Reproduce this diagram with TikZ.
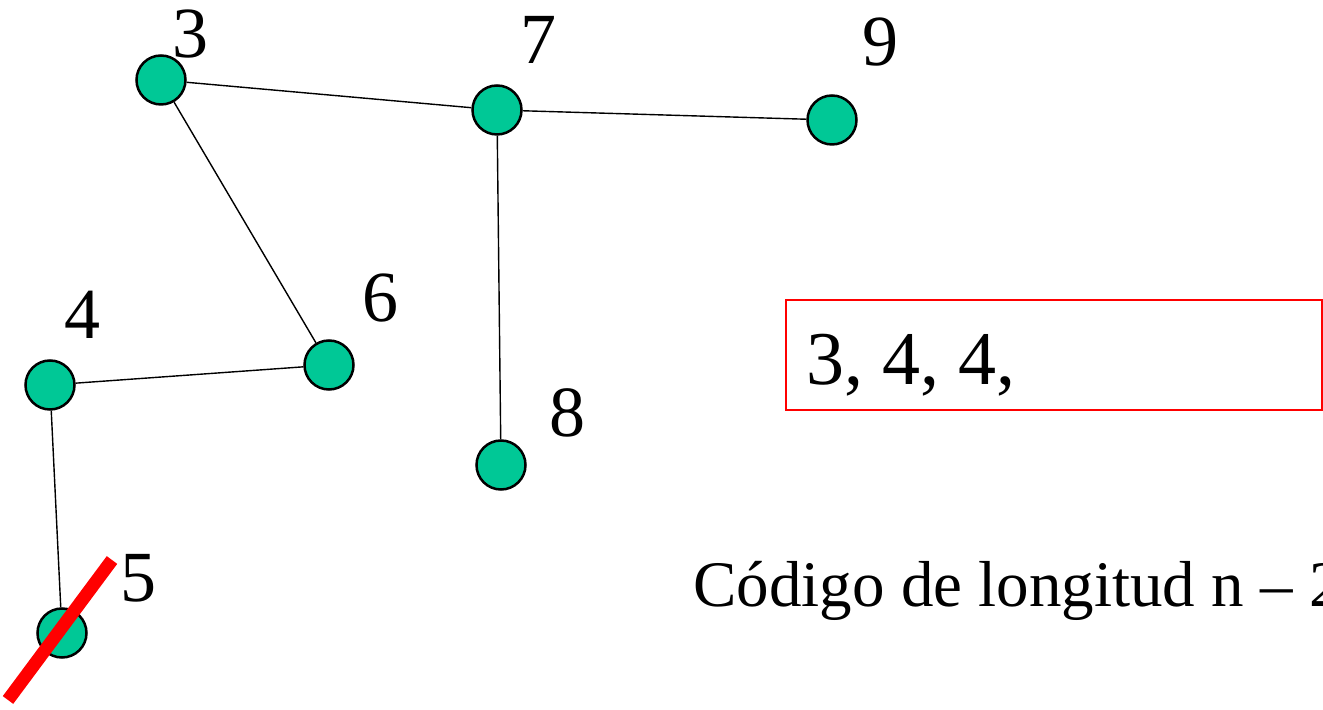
\documentclass[tikz,border=0pt]{standalone}
\usepackage{fontspec}
\setmainfont{Liberation Serif}
\usetikzlibrary{calc}
\definecolor{vnode}{RGB}{0,200,150}

\begin{document}
\begin{tikzpicture}[
  x=0.5pt, y=-0.5pt,
  vtx/.style={circle, draw=black, line width=1.25pt, fill=vnode, minimum size=24.5pt, inner sep=0pt},
  vlabel/.style={font=\rmfamily\fontsize{36}{40}\selectfont, inner sep=0pt},
  edge/.style={line width=0.7pt, black},
  cross/.style={red, line width=6.5pt}
]
  \useasboundingbox (0,0) rectangle (1323,710);

  \node[vtx] (n3) at (161,80) {};
  \node[vtx] (n7) at (497,110) {};
  \node[vtx] (n9) at (832,120) {};
  \node[vtx] (n6) at (329,365) {};
  \node[vtx] (n4) at (50,385) {};
  \node[vtx] (n8) at (501,465) {};
  \node[vtx] (n5) at (62,633) {};

  \draw[edge] (n3) -- (n7);
  \draw[edge] (n7) -- (n9);
  \draw[edge] (n3) -- (n6);
  \draw[edge] (n7) -- (n8);
  \draw[edge] (n4) -- (n6);
  \draw[edge] (n4) -- (n5);

  % Labels
  \node[vlabel] (l3) at (190,34) {3};
  \node[vlabel] (l7) at (538,40) {7};
  \node[vlabel] (l9) at (880,42) {9};
  \node[vlabel] (l6) at (380,298) {6};
  \node[vlabel] (l4) at (82,315) {4};
  \node[vlabel] (l8) at (567,413) {8};
  \node[vlabel] (l5) at (138,578) {5};

  % Removed leaf
  \draw[cross] ($(n5)+(-54,67)$) -- ($(n5)+(50,-73)$);

  % Code so far
  \node[draw=red, line width=0.75pt, minimum width=268pt, minimum height=55pt, inner sep=0pt] (code) at (1054,355) {};
  \node[font=\rmfamily\fontsize{38}{42}\selectfont, anchor=base west, inner sep=0pt] (seq) at (806,385) {3, 4, 4,};
  \node[font=\rmfamily\fontsize{32.5}{38}\selectfont, anchor=base west, inner sep=0pt] (len) at (693,607) {Código de longitud n – 2};
\end{tikzpicture}
\end{document}
